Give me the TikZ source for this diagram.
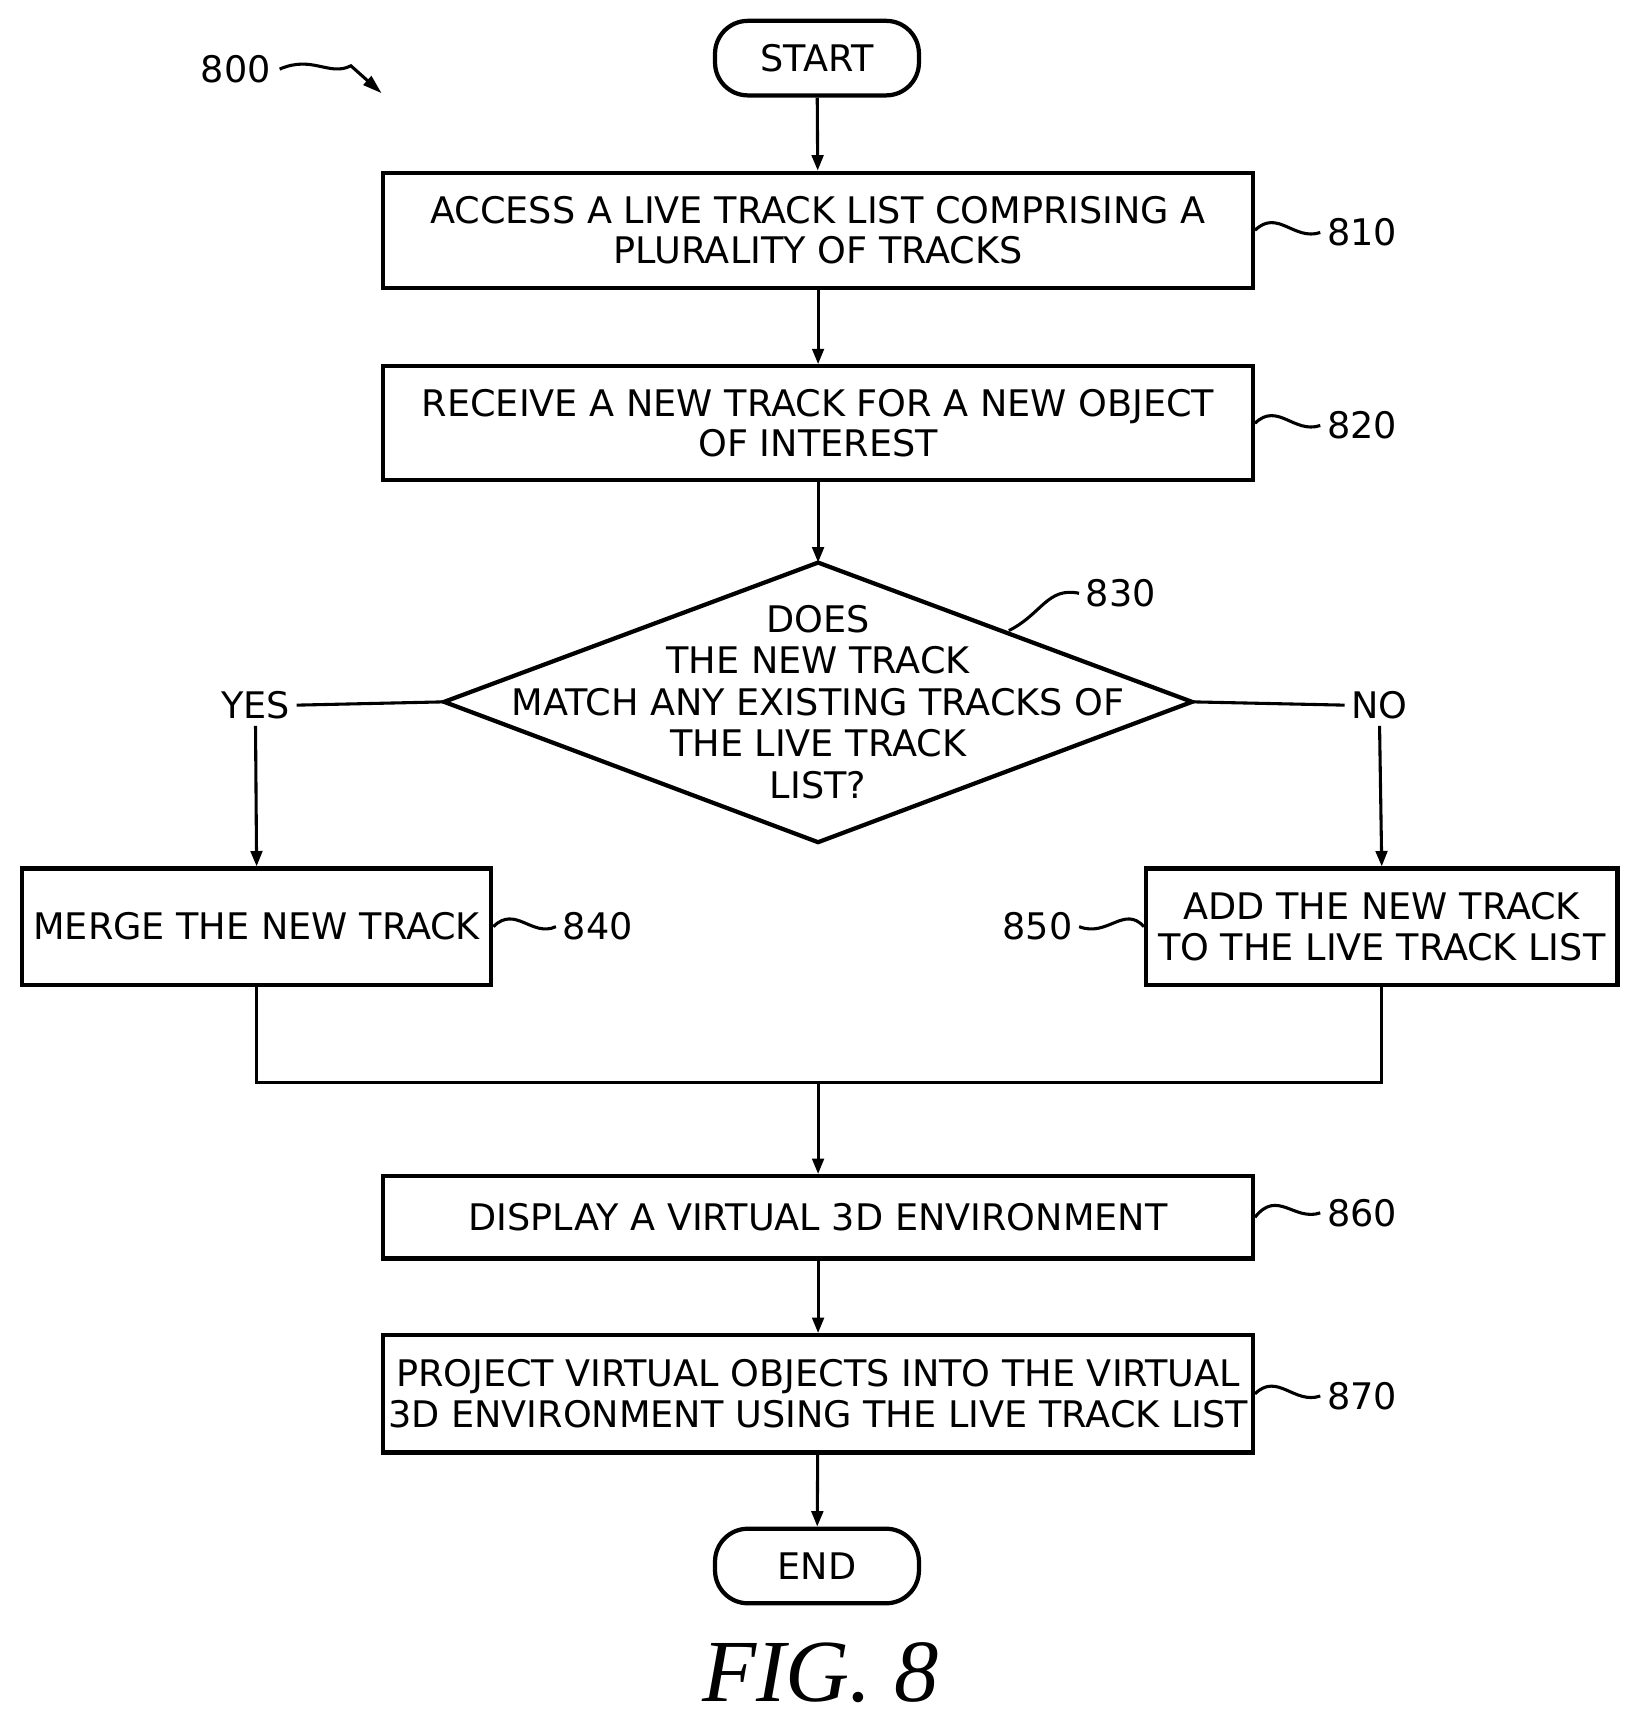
\documentclass[tikz,border=0pt]{standalone}
\usepackage{fontspec}
\setmainfont{DejaVu Sans}
\newfontfamily\figfont{Liberation Serif}
\usetikzlibrary{shapes.geometric,arrows.meta}
\begin{document}
\begin{tikzpicture}[x=0.02cm,y=-0.02cm,
 box/.style={draw,line width=2.2pt,align=center,font=\fontsize{19}{21}\selectfont,inner sep=0pt},
 term/.style={draw,line width=2.2pt,rounded corners=0.6cm,minimum width=3.72cm,minimum height=1.36cm,font=\fontsize{19}{21}\selectfont},
 lbl/.style={font=\fontsize{19}{21}\selectfont},
 ln/.style={line width=1.6pt},
 arr/.style={line width=1.6pt,-{Triangle[length=8pt,width=6pt]}}]
\useasboundingbox (0,0) rectangle (1500,1573);
\node[term] (start) at (745,53) {START};
\node[box,minimum width=15.86cm,minimum height=2.1cm] (b810) at (746,210) {ACCESS A LIVE TRACK LIST COMPRISING A\\PLURALITY OF TRACKS};
\node[box,minimum width=15.86cm,minimum height=2.08cm] (b820) at (746,386) {RECEIVE A NEW TRACK FOR A NEW OBJECT\\OF INTEREST};
\coordinate (dl) at (405,640); \coordinate (dr) at (1087,640);
\coordinate (dt) at (746,513); \coordinate (db) at (746,768);
\draw[line width=2.2pt] (dt)--(dr)--(db)--(dl)--cycle;
\node[align=center,font=\fontsize{19}{21.5}\selectfont] (dtext) at (746,640) {DOES\\THE NEW TRACK\\MATCH ANY EXISTING TRACKS OF\\THE LIVE TRACK\\LIST?};
\node[box,minimum width=8.56cm,minimum height=2.12cm] (b840) at (234,845) {MERGE THE NEW TRACK};
\node[box,minimum width=8.6cm,minimum height=2.12cm] (b850) at (1260,845) {ADD THE NEW TRACK\\TO THE LIVE TRACK LIST};
\node[box,minimum width=15.86cm,minimum height=1.5cm] (b860) at (746,1110) {DISPLAY A VIRTUAL 3D ENVIRONMENT};
\node[box,minimum width=15.86cm,minimum height=2.14cm] (b870) at (746,1271) {PROJECT VIRTUAL OBJECTS INTO THE VIRTUAL\\3D ENVIRONMENT USING THE LIVE TRACK LIST};
\node[term] (end) at (745,1428) {END};
\node[font=\figfont\itshape\fontsize{46}{50}\selectfont] (fig) at (748,1525) {FIG. 8};

\draw[arr] (start) -- (b810);
\draw[arr] (b810) -- (b820);
\draw[arr] (b820) -- (dt);
\node[lbl] (yes) at (233,643) {YES};
\node[lbl] (no) at (1258,643) {NO};
\draw[ln] (dl) -- (yes.east);
\draw[ln] (dr) -- (no.west);
\draw[arr] (yes.south) -- (b840.north);
\draw[arr] (no.south) -- (b850.north);
\coordinate (m) at (746,987);
\draw[ln] (b840.south) |- (m) -| (b850.south);
\draw[arr] (m) -- (b860);
\draw[arr] (b860) -- (b870);
\draw[arr] (b870) -- (end);

\node[lbl] (l800) at (215,63) {800};
\coordinate (a800) at (348,85);
\draw[ln,-{Triangle[length=10pt,width=6pt]}] (255,63) .. controls (285,50) and (300,70) .. (320,60) -- (a800);
\node[lbl] (l810) at (1242,212) {810};
\draw[ln] (b810.east) .. controls (1165,190) and (1180,220) .. (l810.west);
\node[lbl] (l820) at (1242,388) {820};
\draw[ln] (b820.east) .. controls (1165,366) and (1180,396) .. (l820.west);
\node[lbl] (l830) at (1022,541) {830};
\draw[ln] (920,575) .. controls (950,560) and (955,535) .. (l830.west);
\node[lbl] (l840) at (545,845) {840};
\draw[ln] (b840.east) .. controls (470,825) and (485,855) .. (l840.west);
\node[lbl] (l850) at (946,845) {850};
\draw[ln] (l850.east) .. controls (1010,855) and (1025,825) .. (b850.west);
\node[lbl] (l860) at (1242,1106) {860};
\draw[ln] (b860.east) .. controls (1165,1084) and (1180,1114) .. (l860.west);
\node[lbl] (l870) at (1242,1273) {870};
\draw[ln] (b870.east) .. controls (1165,1251) and (1180,1281) .. (l870.west);
\end{tikzpicture}
\end{document}
